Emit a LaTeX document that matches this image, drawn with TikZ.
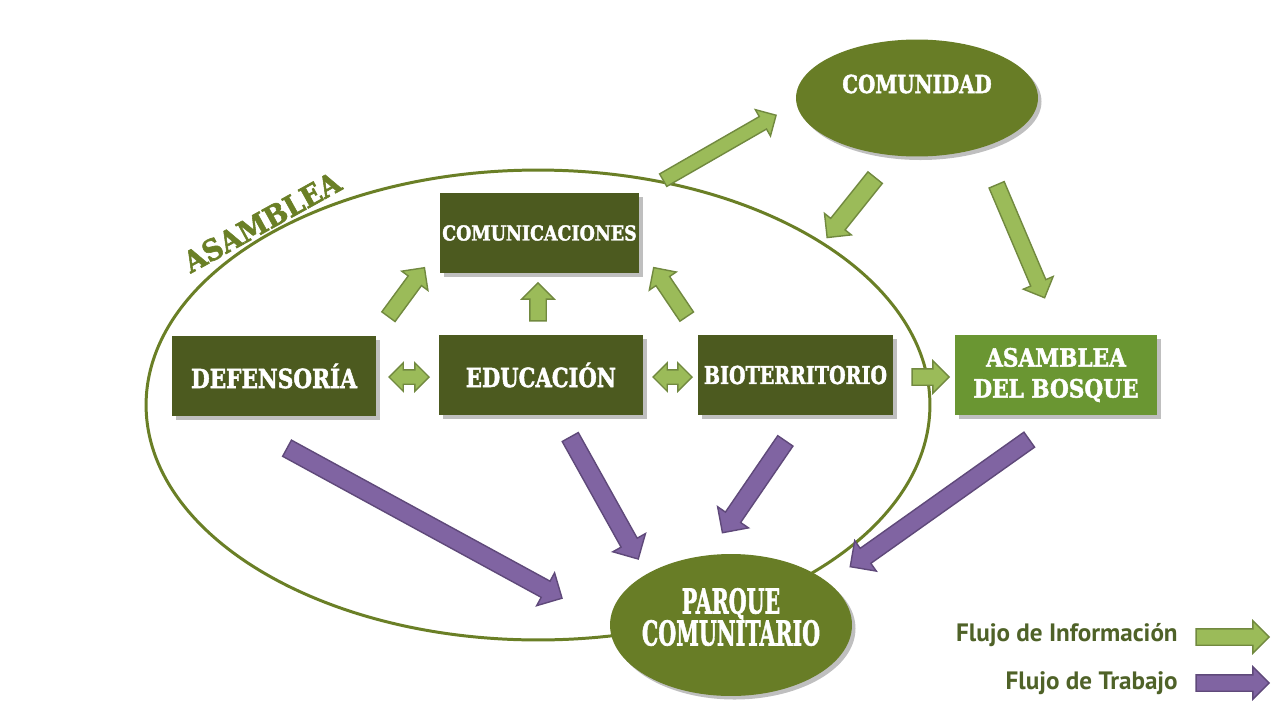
\documentclass[tikz,border=0pt]{standalone}
\usepackage{fontspec}
\usepackage{graphicx}
\usetikzlibrary{shapes.geometric,shapes.arrows,calc,shadows}
\newfontfamily\slab{DejaVu Serif}[BoldFeatures={FakeBold=2}]
\newfontfamily\legfont{PT Sans}
\definecolor{boxdark}{HTML}{4C5A1F}
\definecolor{olivefill}{HTML}{687D26}
\definecolor{boxlight}{HTML}{6A9632}
\definecolor{grfill}{HTML}{9BBB59}
\definecolor{grline}{HTML}{71893F}
\definecolor{pufill}{HTML}{8064A2}
\definecolor{puline}{HTML}{5F497A}
\definecolor{legtext}{HTML}{4F6228}
\definecolor{ringline}{HTML}{6A7F26}
\newcommand\sq[2]{\scalebox{#1}[1]{#2}}
\newcommand\blockarrow[4]{%
  \path let \p1=(#3), \p2=(#4),
    \n1={atan2(\y2-\y1,\x2-\x1)}, \n2={veclen(\x2-\x1,\y2-\y1)} in
    node[#2, minimum height=\n2, rotate=\n1] (#1) at ($(#3)!0.5!(#4)$) {};}
\begin{document}
\begin{tikzpicture}[x=0.02cm,y=-0.02cm,
  shade/.style={drop shadow={shadow xshift=2pt,shadow yshift=-2pt,opacity=0.25,fill=black}},
  darkbox/.style={rectangle, fill=boxdark, text=white, inner sep=0, minimum height=1.6cm, shade},
  ovalbox/.style={ellipse, fill=olivefill, inner sep=0, minimum width=4.84cm, shade},
  ovaltext/.style={text=white, inner sep=0, align=center},
  garrow/.style={single arrow, draw=grline, fill=grfill, line width=0.8pt, inner xsep=0,
     inner ysep=0.15cm, single arrow head extend=0.16cm},
  gdouble/.style={double arrow, draw=grline, fill=grfill, line width=0.8pt, inner xsep=0,
     inner ysep=0.13cm, double arrow head extend=0.14cm},
  parrow/.style={single arrow, draw=puline, fill=pufill, line width=0.8pt, inner xsep=0,
     inner ysep=0.17cm, single arrow head extend=0.19cm},
  legtxt/.style={anchor=east, text=legtext, inner sep=0, font=\legfont\bfseries\fontsize{14.3}{17}\selectfont}
]
\useasboundingbox (0,0) rectangle (1280,720);
\fill[white] (0,0) rectangle (1280,720);

% big ring
\node[ellipse, draw=ringline, line width=1.7pt, minimum width=15.68cm, minimum height=9.4cm, inner sep=0] (ring) at (538,405) {};
\node[rotate=29, text=ringline, inner sep=0, font={\slab\bfseries\fontsize{16.5}{18}\selectfont}] (ringlabel) at (262,222) {\sq{0.93}{ASAMBLEA}};

% boxes
\node[darkbox, minimum width=3.98cm, font={\slab\bfseries\fontsize{11.7}{14}\selectfont}] (comunic) at (539.5,233) {\sq{0.85}{COMUNICACIONES}};
\node[darkbox, minimum width=4.08cm, font={\slab\bfseries\fontsize{15}{18}\selectfont}] (defens) at (274,376) {\sq{0.82}{DEFENSORÍA}};
\node[darkbox, minimum width=4.08cm, font={\slab\bfseries\fontsize{15}{18}\selectfont}] (educ) at (541,375) {\sq{0.80}{EDUCACIÓN}};
\node[darkbox, minimum width=3.9cm, font={\slab\bfseries\fontsize{14}{17}\selectfont}] (biot) at (795.5,375) {\sq{0.775}{BIOTERRITORIO}};
\node[darkbox, fill=boxlight, minimum width=4.04cm, align=center, font={\slab\bfseries\fontsize{14.3}{17.6}\selectfont}] (bosque) at (1056,375)
  {\sq{0.86}{ASAMBLEA}\\\sq{0.86}{DEL BOSQUE}};

% ellipses
\node[ovalbox, minimum height=2.34cm] (comunidad) at (917,98) {};
\node[ovaltext, font={\slab\bfseries\fontsize{14.1}{17}\selectfont}] (comunidadtxt) at (917,84) {\sq{0.80}{COMUNIDAD}};
\node[ovalbox, minimum height=2.84cm] (parque) at (731,625) {};
\node[ovaltext, font={\slab\bfseries\fontsize{19.5}{18.2}\selectfont}] (parquetxt) at (731,617) {\sq{0.60}{PARQUE}\\\sq{0.60}{COMUNITARIO}};

% arrow end points
\coordinate (a1s) at (386,320); \coordinate (a1e) at (422,271);
\coordinate (a2s) at (538,325); \coordinate (a2e) at (538,287);
\coordinate (a3s) at (689,320); \coordinate (a3e) at (656,271);
\coordinate (a4s) at (389,377); \coordinate (a4e) at (429,377);
\coordinate (a5s) at (653,377); \coordinate (a5e) at (692,377);
\coordinate (a6s) at (908,377); \coordinate (a6e) at (945,377);
\coordinate (a7s) at (660,182); \coordinate (a7e) at (773,117);
\coordinate (a8s) at (878,174); \coordinate (a8e) at (830,234);
\coordinate (a9s) at (995,181); \coordinate (a9e) at (1043,294);
\coordinate (a10s) at (283,446); \coordinate (a10e) at (558,596);
\coordinate (a11s) at (568,433); \coordinate (a11e) at (636,555);
\coordinate (a12s) at (788,437); \coordinate (a12e) at (725,529);
\coordinate (a13s) at (1033,437); \coordinate (a13e) at (854,564);
\coordinate (l1s) at (1192,637); \coordinate (l1e) at (1265,637);
\coordinate (l2s) at (1192,683); \coordinate (l2e) at (1265,683);

% information flow
\blockarrow{ar1}{garrow}{a1s}{a1e}
\blockarrow{ar2}{garrow}{a2s}{a2e}
\blockarrow{ar3}{garrow}{a3s}{a3e}
\blockarrow{ar4}{gdouble}{a4s}{a4e}
\blockarrow{ar5}{gdouble}{a5s}{a5e}
\blockarrow{ar6}{garrow}{a6s}{a6e}
\blockarrow{ar7}{garrow,inner ysep=0.13cm}{a7s}{a7e}
\blockarrow{ar8}{garrow,inner ysep=0.17cm}{a8s}{a8e}
\blockarrow{ar9}{garrow}{a9s}{a9e}
% work flow
\blockarrow{ar10}{parrow}{a10s}{a10e}
\blockarrow{ar11}{parrow}{a11s}{a11e}
\blockarrow{ar12}{parrow}{a12s}{a12e}
\blockarrow{ar13}{parrow}{a13s}{a13e}

% legend
\node[legtxt] (leg1) at (1178,635) {Flujo de Información};
\node[legtxt] (leg2) at (1178,683) {Flujo de Trabajo};
\blockarrow{lg1}{garrow,inner ysep=0.15cm,single arrow head extend=0.16cm}{l1s}{l1e}
\blockarrow{lg2}{parrow,inner ysep=0.15cm,single arrow head extend=0.16cm}{l2s}{l2e}
\end{tikzpicture}
\end{document}
